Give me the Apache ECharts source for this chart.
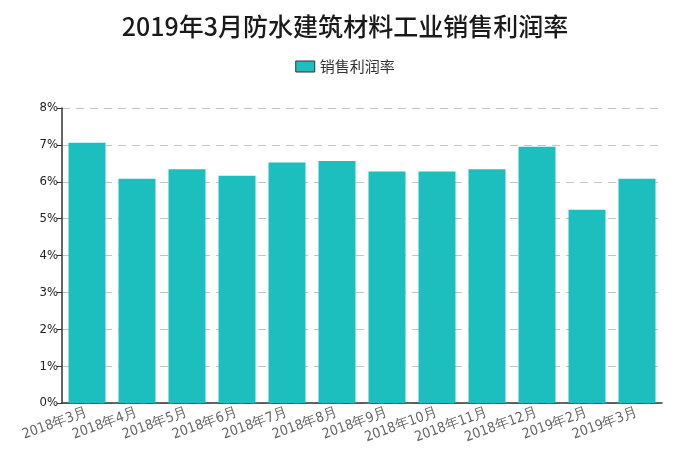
<!DOCTYPE html>
<html>
<head>
<meta charset="utf-8">
<script src="https://cdn.jsdelivr.net/npm/echarts@6/dist/echarts.min.js"></script>
<style>
  html, body { margin: 0; padding: 0; background: #fff; }
  #chart { width: 690px; height: 467px; }
</style>
</head>
<body>
<div id="chart"></div>
<script>
const months = ['2018年3月', '2018年4月', '2018年5月', '2018年6月', '2018年7月', '2018年8月',
  '2018年9月', '2018年10月', '2018年11月', '2018年12月', '2019年2月', '2019年3月'];
const profitRate = [7.06, 6.08, 6.34, 6.16, 6.52, 6.56, 6.28, 6.28, 6.34, 6.95, 5.24, 6.08];

const chart = echarts.init(document.getElementById('chart'));

const option = {
  title: {
    text: '2019年3月防水建筑材料工业销售利润率',
    left: 'center',
    top: 9,
    textStyle: { fontSize: 25, fontWeight: 500, color: '#1a1a1a', fontFamily: 'Noto Sans CJK SC' }
  },
  legend: {
    top: 54,
    left: 'center',
    icon: 'rect',
    itemWidth: 19,
    itemHeight: 11,
    textStyle: { fontSize: 15, color: '#333', fontFamily: 'Noto Sans CJK SC' },
    data: [{ name: '销售利润率', itemStyle: { borderColor: '#333', borderWidth: 1 } }]
  },
  grid: { left: 62, right: 28, top: 108, bottom: 64 },
  xAxis: {
    type: 'category',
    data: months,
    axisLine: { lineStyle: { color: '#333', width: 1.5 } },
    axisTick: { alignWithLabel: true, length: 5, lineStyle: { color: '#333' } },
    axisLabel: { rotate: 20, interval: 0, color: '#666', fontSize: 14, margin: 9, fontFamily: 'DejaVu Sans Condensed' }
  },
  yAxis: {
    type: 'value',
    min: 0,
    max: 8,
    interval: 1,
    axisLine: { show: true, lineStyle: { color: '#333', width: 1.5 } },
    axisTick: { show: true, length: 5, lineStyle: { color: '#333' } },
    axisLabel: { formatter: '{value}%', color: '#222', fontSize: 13, margin: 4, fontFamily: 'DejaVu Sans Condensed' },
    splitLine: { lineStyle: { type: [8, 6], color: '#c4c4c4' } }
  },
  series: [{
    name: '销售利润率',
    type: 'bar',
    data: profitRate,
    barCategoryGap: '26%',
    itemStyle: { color: '#1dbfbe' }
  }]
};

chart.setOption(option);
</script>
</body>
</html>
